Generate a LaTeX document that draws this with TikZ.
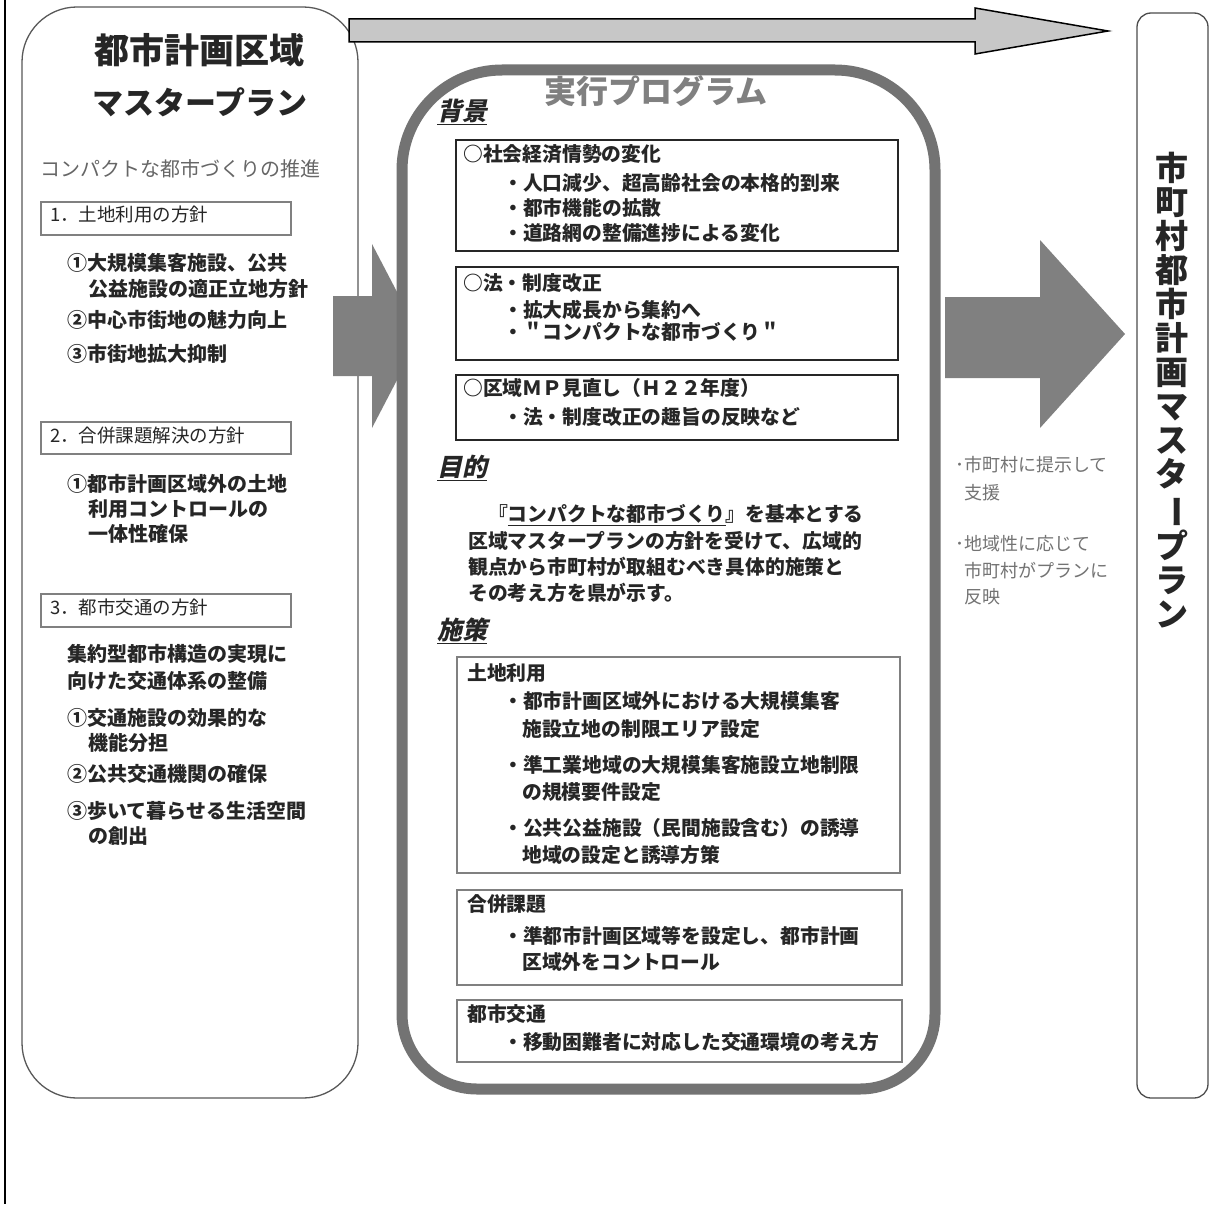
\documentclass[tikz,border=0pt]{standalone}
\usepackage{fontspec}
\setmainfont{Noto Sans CJK JP}
\newfontfamily\jpit[FakeSlant=0.22]{Noto Sans CJK JP}
\begin{document}
\begin{tikzpicture}[x=1pt,y=-1pt,
  txt/.style={anchor=west, inner sep=0pt, text height=0.88em, text depth=0.12em},
  lt/.style={txt, font=\fontsize{20}{24}\selectfont\bfseries, text=black!85},
  lbl/.style={txt, font=\fontsize{18.5}{22}\selectfont, text=black!85},
  mt/.style={txt, font=\fontsize{19.8}{24}\selectfont\bfseries, text=black!85},
  hd/.style={txt, font=\fontsize{25}{28}\selectfont\jpit\bfseries, text=black!85},
  st/.style={txt, font=\fontsize{18}{22}\selectfont, text=black!55},
  boxa/.style={draw=black!85, line width=1.3},
  boxb/.style={draw=black!50, line width=1.1},
  bigarrow/.style={fill=black!50}
]
\useasboundingbox (0,0) rectangle (1214,1204);
\fill[white] (0,0) rectangle (1214,1204);
% outer frame line
\draw[line width=1.5] (5,0) -- (5,1204);

% left box
\draw[rounded corners=55, draw=black!65, line width=1.3, fill=white] (22,7) rectangle (358,1098);
\node[inner sep=0pt, font=\fontsize{35}{38}\selectfont\bfseries, text=black!85] (t1) at (199,50) {都市計画区域};
\node[inner sep=0pt, font=\fontsize{31}{34}\selectfont\bfseries, text=black!85] (t2) at (200,102) {マスタープラン};
\node[txt, font=\fontsize{20}{24}\selectfont, text=black!60] (c1) at (40,173) {コンパクトな都市づくりの推進};

\draw[boxb] (41,202) rectangle (291,235);
\node[lbl] (l1) at (50,218) {1．土地利用の方針};
\node[lt] (a1) at (67,267) {①大規模集客施設、公共};
\node[lt] (a2) at (88,293) {公益施設の適正立地方針};
\node[lt] (a3) at (67,324) {②中心市街地の魅力向上};
\node[lt] (a4) at (67,358) {③市街地拡大抑制};

\draw[boxb] (41,422) rectangle (291,454);
\node[lbl] (l2) at (50,439) {2．合併課題解決の方針};
\node[lt] (b1) at (67,488) {①都市計画区域外の土地};
\node[lt] (b2) at (88,513) {利用コントロールの};
\node[lt] (b3) at (88,538) {一体性確保};

\draw[boxb] (41,594) rectangle (291,627);
\node[lbl] (l3) at (50,611) {3．都市交通の方針};
\node[lt] (d1) at (67,658) {集約型都市構造の実現に};
\node[lt] (d2) at (67,685) {向けた交通体系の整備};
\node[lt] (d3) at (67,722) {①交通施設の効果的な};
\node[lt] (d4) at (88,747) {機能分担};
\node[lt] (d5) at (67,778) {②公共交通機関の確保};
\node[lt] (d6) at (67,815) {③歩いて暮らせる生活空間};
\node[lt] (d7) at (88,840) {の創出};

% left big arrow
\fill[bigarrow] (333,296) -- (372,296) -- (372,244) -- (420,336) -- (372,428) -- (372,376) -- (333,376) -- cycle;

% middle box
\draw[line width=11, draw=black!55, fill=white] (402,600) [rounded corners=100] -- (402,70) -- (935,70) -- (935,600) [rounded corners=75] -- (935,1089) -- (402,1089) -- cycle;
\node[inner sep=0pt, font=\fontsize{32}{35}\selectfont\bfseries, text=black!50] (mtitle) at (656,91) {実行プログラム};

\node[hd] (h1) at (437,117) {\underline{背景}};
\draw[boxa] (456,140) rectangle (898,251);
\node[mt] (m11) at (463,158) {○社会経済情勢の変化};
\node[mt] (m12) at (503,187) {・人口減少、超高齢社会の本格的到来};
\node[mt] (m13) at (503,212) {・都市機能の拡散};
\node[mt] (m14) at (503,237) {・道路網の整備進捗による変化};

\draw[boxa] (456,267) rectangle (898,360);
\node[mt] (m21) at (463,287) {○法・制度改正};
\node[mt] (m22) at (503,314) {・拡大成長から集約へ};
\node[mt] (m23) at (503,336) {・＂コンパクトな都市づくり＂};

\draw[boxa] (456,375) rectangle (898,440);
\node[mt] (m31) at (463,392) {○区域ＭＰ見直し（Ｈ２２年度）};
\node[mt] (m32) at (503,421) {・法・制度改正の趣旨の反映など};

\node[hd] (h2) at (437,473) {\underline{目的}};
\node[mt] (p1) at (468,518) {　『\underline{コンパクトな都市づくり}』を基本とする};
\node[mt] (p2) at (468,545) {区域マスタープランの方針を受けて、広域的};
\node[mt] (p3) at (468,571) {観点から市町村が取組むべき具体的施策と};
\node[mt] (p4) at (468,597) {その考え方を県が示す。};

\node[hd] (h3) at (437,636) {\underline{施策}};
\draw[boxb] (457,657) rectangle (900,873);
\node[mt] (s11) at (467,677) {土地利用};
\node[mt] (s12) at (503,705) {・都市計画区域外における大規模集客};
\node[mt] (s13) at (522,733) {施設立地の制限エリア設定};
\node[mt] (s14) at (503,769) {・準工業地域の大規模集客施設立地制限};
\node[mt] (s15) at (522,796) {の規模要件設定};
\node[mt] (s16) at (503,832) {・公共公益施設（民間施設含む）の誘導};
\node[mt] (s17) at (522,859) {地域の設定と誘導方策};

\draw[boxb] (457,890) rectangle (902,985);
\node[mt] (s21) at (467,908) {合併課題};
\node[mt] (s22) at (503,940) {・準都市計画区域等を設定し、都市計画};
\node[mt] (s23) at (522,966) {区域外をコントロール};

\draw[boxb] (457,1000) rectangle (902,1062);
\node[mt] (s31) at (467,1018) {都市交通};
\node[mt] (s32) at (503,1046) {・移動困難者に対応した交通環境の考え方};

% right big arrow
\fill[bigarrow] (945,297) -- (1040,297) -- (1040,240) -- (1125,334) -- (1040,428) -- (1040,378) -- (945,378) -- cycle;

\node[st] (r1) at (955,468) {･市町村に提示して};
\node[st] (r2) at (964,496) {支援};
\node[st] (r3) at (955,547) {･地域性に応じて};
\node[st] (r4) at (964,574) {市町村がプランに};
\node[st] (r5) at (964,600) {反映};

% top arrow
\draw[fill=black!22, line width=1.5] (349,19) -- (975,19) -- (975,8) -- (1108,31) -- (975,54) -- (975,42) -- (349,42) -- cycle;

% right box
\draw[rounded corners=14, draw=black!70, line width=1.3] (1137,13) rectangle (1208,1098);
\node[inner sep=0pt, align=center, font=\fontsize{33}{34}\selectfont\bfseries, text=black!85] (rv) at (1172,390)
 {市\\町\\村\\都\\市\\計\\画\\マ\\ス\\タ\\\rotatebox[origin=c]{-90}{ー}\\プ\\ラ\\ン};
\end{tikzpicture}
\end{document}
